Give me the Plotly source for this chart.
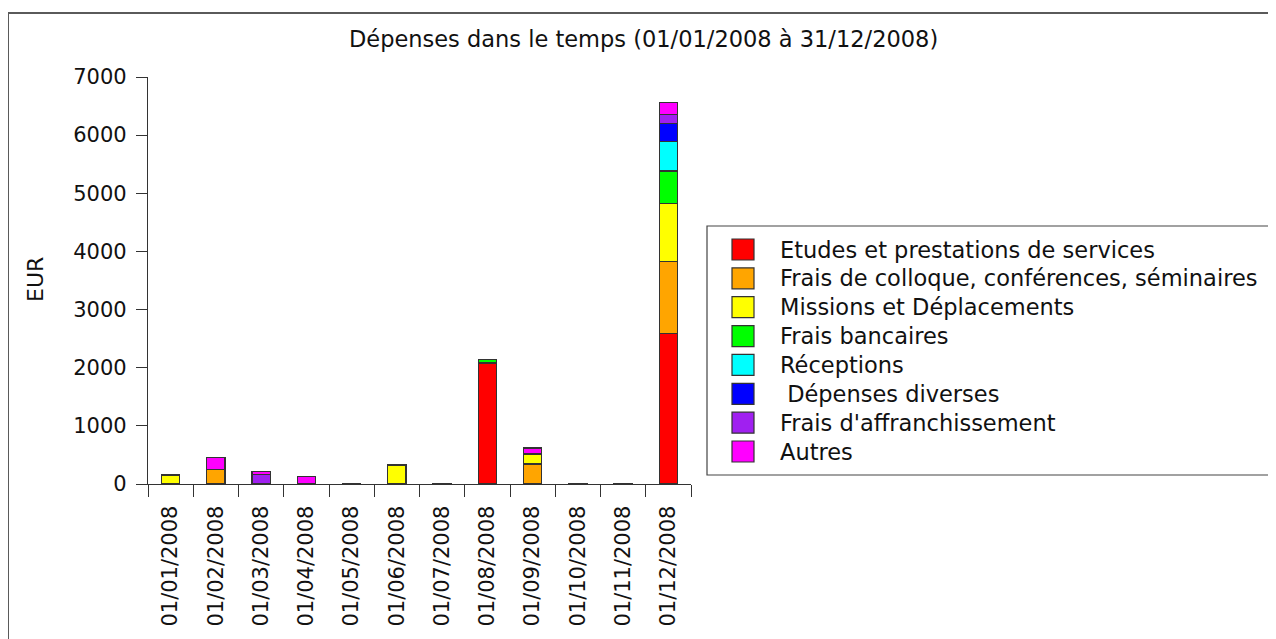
import plotly.graph_objects as go

months = ["01/01/2008", "01/02/2008", "01/03/2008", "01/04/2008", "01/05/2008", "01/06/2008",
          "01/07/2008", "01/08/2008", "01/09/2008", "01/10/2008", "01/11/2008", "01/12/2008"]

series_names = ["Etudes et prestations de services",
                "Frais de colloque, conférences, séminaires",
                "Missions et Déplacements",
                "Frais bancaires",
                "Réceptions",
                " Dépenses diverses",
                "Frais d'affranchissement",
                "Autres"]
series_colors = ["#FF0000", "#FFA500", "#FFFF00", "#00FF00", "#00FFFF", "#0000FF", "#A020F0", "#FF00FF"]

etudes      = [0, 0, 0, 0, 0, 0, 0, 2070, 0, 0, 0, 2590]
colloque    = [0, 245, 0, 0, 0, 0, 0, 20, 345, 0, 0, 1235]
missions    = [140, 0, 0, 0, 0, 320, 0, 0, 160, 0, 0, 1005]
bancaires   = [15, 8, 0, 0, 12, 12, 12, 45, 10, 12, 12, 555]
receptions  = [0, 0, 0, 0, 0, 0, 0, 0, 0, 0, 0, 505]
diverses    = [0, 0, 0, 0, 0, 0, 0, 0, 0, 0, 0, 315]
affranch    = [0, 0, 160, 0, 0, 0, 0, 0, 0, 0, 0, 145]
autres      = [0, 200, 58, 132, 0, 0, 0, 0, 103, 0, 0, 215]

series_values = [etudes, colloque, missions, bancaires, receptions, diverses, affranch, autres]

title_text = "Dépenses dans le temps (01/01/2008 à 31/12/2008)"
y_title = "EUR"

FONT = "DejaVu Sans"
OFF = 8                      # page body margin
W, H = 1276 - OFF, 639 - OFF
L, R, T, B = 148 - OFF, 691 - OFF, 77 - OFF, 484 - OFF   # plot area in figure pixels


def px(xp):
    """page x pixel -> paper coordinate"""
    return (xp - OFF - L) / (R - L)


def py(yp):
    """page y pixel -> paper coordinate"""
    return (B - (yp - OFF)) / (B - T)


fig = go.Figure()
for name, color, vals in zip(series_names, series_colors, series_values):
    fig.add_trace(go.Bar(
        x=months, y=vals, name=name, width=0.4,
        marker=dict(color=color, line=dict(color="#333333", width=1.2)),
        showlegend=False,
    ))

shapes = []
annotations = []

# outer frame (partly cut by the window)
shapes.append(dict(type="rect", xref="paper", yref="paper",
                   x0=px(8), x1=px(1300), y0=py(13), y1=py(660),
                   line=dict(color="#5a5a5a", width=2), fillcolor="rgba(0,0,0,0)", layer="below"))

# legend box
shapes.append(dict(type="rect", xref="paper", yref="paper",
                   x0=px(707), x1=px(1271), y0=py(226), y1=py(475),
                   line=dict(color="#444444", width=1.2), fillcolor="white"))
for i, (name, color) in enumerate(zip(series_names, series_colors)):
    yc = 249.5 + i * 28.86
    shapes.append(dict(type="rect", xref="paper", yref="paper",
                       x0=px(732), x1=px(754), y0=py(yc - 10.5), y1=py(yc + 10.5),
                       line=dict(color="#333333", width=1.2), fillcolor=color))
    annotations.append(dict(xref="paper", yref="paper", x=px(778), y=py(yc),
                            text=name, showarrow=False, xanchor="left", yanchor="middle",
                            font=dict(family=FONT, size=22.5, color="#111111")))

annotations.append(dict(xref="paper", yref="paper", x=px(643.5), y=py(39),
                        text=title_text, showarrow=False, xanchor="center", yanchor="middle",
                        font=dict(family=FONT, size=22.5, color="#111111")))
annotations.append(dict(xref="paper", yref="paper", x=px(35), y=py(280),
                        text=y_title, showarrow=False, textangle=-90,
                        xanchor="center", yanchor="middle",
                        font=dict(family=FONT, size=22, color="#111111")))

fig.update_layout(
    width=W, height=H,
    margin=dict(l=L, r=W - R, t=T, b=H - B, pad=0),
    barmode="stack",
    plot_bgcolor="white", paper_bgcolor="white",
    font=dict(family=FONT, size=22, color="#111111"),
    shapes=shapes, annotations=annotations,
    showlegend=False,
)
fig.update_xaxes(
    type="category", range=[-0.5, 11.5], tickson="boundaries",
    ticks="outside", ticklen=12, tickwidth=1.3, tickcolor="#333333",
    showline=True, linecolor="#333333", linewidth=1.3,
    showgrid=False, zeroline=False, tickangle=-90,
    ticklabelstandoff=12,
    tickfont=dict(family=FONT, size=21, color="#111111"),
)
fig.update_yaxes(
    range=[0, 7000], dtick=1000, tick0=0,
    ticks="outside", ticklen=11, tickwidth=1.3, tickcolor="#333333",
    showline=True, linecolor="#333333", linewidth=1.3,
    showgrid=False, zeroline=False,
    ticklabelstandoff=5,
    tickfont=dict(family=FONT, size=21, color="#111111"),
)

fig.write_html("out.html")
